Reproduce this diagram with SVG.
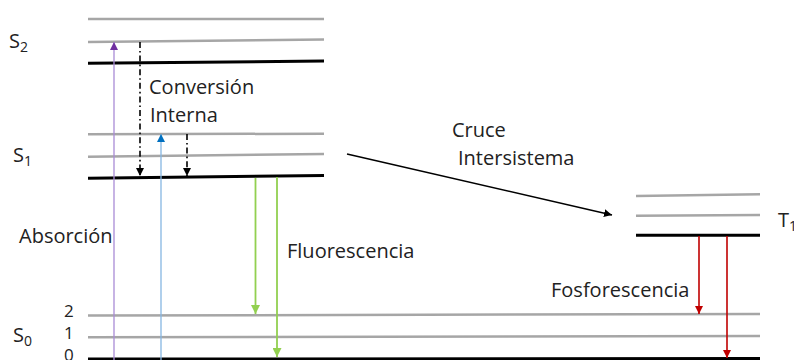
<svg xmlns="http://www.w3.org/2000/svg" width="794" height="360" viewBox="0 0 794 360">
  <style>
    .lvl { stroke: #a6a6a6; stroke-width: 2.5; fill: none; }
    .base { stroke: #000; stroke-width: 3; fill: none; }
    .lbl { font-family: "Open Sans", "Liberation Sans", sans-serif; font-size: 20px; fill: #222; }
    .st { font-family: "Open Sans", "Liberation Sans", sans-serif; font-size: 20px; fill: #222; }
    .num { font-family: "Open Sans", "Liberation Sans", sans-serif; font-size: 17px; fill: #222; }
    .sub { font-size: 14px; }
    .ic { stroke: #000; stroke-width: 1.6; stroke-dasharray: 6 3 1.6 3; fill: none; }
  </style>
  <defs>
    <marker id="hPurple" viewBox="0 0 10 10" refX="10" refY="5" markerWidth="8" markerHeight="8" markerUnits="userSpaceOnUse" orient="auto">
      <path d="M0,0 L10,5 L0,10 z" fill="#7030a0"/>
    </marker>
    <marker id="hBlue" viewBox="0 0 10 10" refX="10" refY="5" markerWidth="8" markerHeight="8" markerUnits="userSpaceOnUse" orient="auto">
      <path d="M0,0 L10,5 L0,10 z" fill="#0070c0"/>
    </marker>
    <marker id="hBlack" viewBox="0 0 10 10" refX="10" refY="5" markerWidth="8" markerHeight="8" markerUnits="userSpaceOnUse" orient="auto">
      <path d="M0,0 L10,5 L0,10 z" fill="#000"/>
    </marker>
    <marker id="hGreen" viewBox="0 0 10 10" refX="10" refY="5" markerWidth="9" markerHeight="9" markerUnits="userSpaceOnUse" orient="auto">
      <path d="M0,0 L10,5 L0,10 z" fill="#92d050"/>
    </marker>
    <marker id="hRed" viewBox="0 0 10 10" refX="10" refY="5" markerWidth="8" markerHeight="8" markerUnits="userSpaceOnUse" orient="auto">
      <path d="M0,0 L10,5 L0,10 z" fill="#c00000"/>
    </marker>
  </defs>
  <rect width="794" height="360" fill="#fff"/>

  <!-- S2 state -->
  <g id="S2">
    <line class="lvl" x1="88" y1="19" x2="324" y2="19"/>
    <line class="lvl" x1="88" y1="42" x2="324" y2="39.5"/>
    <line class="base" x1="88" y1="63.3" x2="324" y2="61"/>
    <text class="st" x="9" y="48">S<tspan class="sub" dy="4">2</tspan></text>
  </g>

  <!-- S1 state -->
  <g id="S1">
    <line class="lvl" x1="88" y1="134.3" x2="324" y2="133.7"/>
    <line class="lvl" x1="88" y1="156.7" x2="324" y2="154"/>
    <line class="base" x1="88" y1="178.3" x2="324" y2="175.5"/>
    <text class="st" x="13" y="162">S<tspan class="sub" dy="4">1</tspan></text>
  </g>

  <!-- S0 ground state -->
  <g id="S0">
    <line class="lvl" x1="88" y1="315.6" x2="760" y2="314"/>
    <line class="lvl" x1="88" y1="337.2" x2="760" y2="336"/>
    <line class="base" x1="88" y1="359" x2="760" y2="358.5"/>
    <text class="st" x="13" y="342">S<tspan class="sub" dy="4">0</tspan></text>
    <text class="num" x="64" y="317">2</text>
    <text class="num" x="64" y="339">1</text>
    <text class="num" x="64" y="361">0</text>
  </g>

  <!-- T1 triplet state -->
  <g id="T1">
    <line class="lvl" x1="636" y1="196" x2="760" y2="194.3"/>
    <line class="lvl" x1="636" y1="215.7" x2="760" y2="215"/>
    <line class="base" x1="636" y1="235.3" x2="760" y2="235.3"/>
    <text class="st" x="778" y="227">T<tspan class="sub" dy="4">1</tspan></text>
  </g>

  <!-- transitions -->
  <g id="connectors">
    <line x1="114" y1="360" x2="114" y2="42" stroke="#a98bd6" stroke-width="1.3" marker-end="url(#hPurple)"/>
    <line x1="161" y1="360" x2="161" y2="134" stroke="#86b6e2" stroke-width="1.3" marker-end="url(#hBlue)"/>
    <line class="ic" x1="140" y1="42" x2="140" y2="176" marker-end="url(#hBlack)"/>
    <line class="ic" x1="187" y1="134" x2="187" y2="176" marker-end="url(#hBlack)"/>
    <line x1="255.5" y1="178" x2="255.5" y2="314" stroke="#92d050" stroke-width="1.8" marker-end="url(#hGreen)"/>
    <line x1="277" y1="177" x2="277" y2="357" stroke="#92d050" stroke-width="1.8" marker-end="url(#hGreen)"/>
    <line x1="347" y1="154" x2="612" y2="215" stroke="#000" stroke-width="1.5" marker-end="url(#hBlack)"/>
    <line x1="699" y1="236" x2="699" y2="314" stroke="#c00000" stroke-width="1.6" marker-end="url(#hRed)"/>
    <line x1="727" y1="236" x2="727" y2="358" stroke="#c00000" stroke-width="1.6" marker-end="url(#hRed)"/>
  </g>

  <!-- process labels -->
  <g id="labels">
    <text class="lbl" x="149" y="94">Conversión</text>
    <text class="lbl" x="150" y="122">Interna</text>
    <text class="lbl" x="19" y="243">Absorción</text>
    <text class="lbl" x="287" y="258">Fluorescencia</text>
    <text class="lbl" x="452" y="137">Cruce</text>
    <text class="lbl" x="458" y="165">Intersistema</text>
    <text class="lbl" x="551" y="297">Fosforescencia</text>
  </g>
</svg>
